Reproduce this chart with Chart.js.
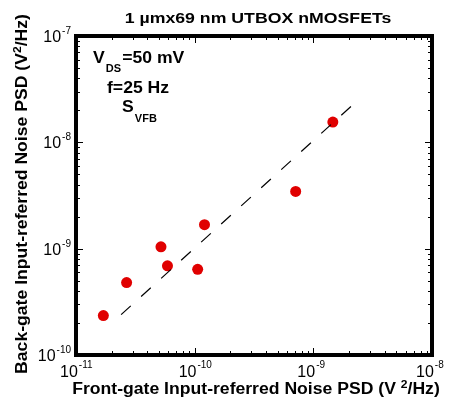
<!DOCTYPE html>
<html>
<head>
<meta charset="utf-8">
<script src="https://cdn.jsdelivr.net/npm/chart.js@4.4.1/dist/chart.umd.min.js"></script>
<style>
  html, body { margin: 0; padding: 0; background: #fff; }
  #wrap { width: 451px; height: 400px; position: relative; }
</style>
</head>
<body>
<div id="wrap"><canvas id="chart"></canvas></div>
<script>
// data
const frontGate = [1.70e-11, 2.67e-11, 5.2e-11, 5.9e-11, 1.06e-10, 1.21e-10, 7.1e-10, 1.46e-9];
const backGate  = [2.35e-10, 4.8e-10, 1.04e-9, 6.9e-10, 6.4e-10, 1.68e-9, 3.45e-9, 1.55e-8];
const fitX = [2.4e-11, 2.1e-9];
const fitY = [2.4e-10, 2.2e-8];
const xDecades = [-11, -10, -9, -8];
const yDecades = [-10, -9, -8, -7];

const FONT = "'Liberation Sans', Arial, sans-serif";

// draws runs of text, each with its own size and baseline shift; sx stretches horizontally
function drawRuns(ctx, runs, x, y, align, sx) {
  sx = sx || 1;
  let total = 0;
  runs.forEach(r => { ctx.font = r.font; r.w = ctx.measureText(r.t).width; total += r.w + (r.gap || 0); });
  let cx = align === 'center' ? -total / 2 : align === 'right' ? -total : 0;
  ctx.save();
  ctx.translate(x, y);
  ctx.scale(sx, 1);
  ctx.textAlign = 'left';
  ctx.textBaseline = 'alphabetic';
  runs.forEach(r => {
    ctx.font = r.font;
    ctx.fillText(r.t, cx, r.dy || 0);
    cx += r.w + (r.gap || 0);
  });
  ctx.restore();
}

const frame = {
  id: 'frame',
  afterDraw(chart) {
    const { ctx, chartArea: a, scales } = chart;
    const xs = scales.x, ys = scales.y;
    ctx.save();
    ctx.fillStyle = '#000';
    ctx.strokeStyle = '#000';

    // inside ticks, all four sides
    ctx.lineWidth = 1;
    ctx.beginPath();
    xDecades.forEach((d, i) => {
      for (let m = 1; m < 10; m++) {
        if (m > 1 && i === xDecades.length - 1) break;
        const px = Math.round(xs.getPixelForValue(m * Math.pow(10, d))) + 0.5;
        const len = m === 1 ? 7 : 4;
        ctx.moveTo(px, a.bottom); ctx.lineTo(px, a.bottom - len);
        ctx.moveTo(px, a.top); ctx.lineTo(px, a.top + len);
      }
    });
    yDecades.forEach((d, i) => {
      for (let m = 1; m < 10; m++) {
        if (m > 1 && i === yDecades.length - 1) break;
        const py = Math.round(ys.getPixelForValue(m * Math.pow(10, d))) + 0.5;
        const len = m === 1 ? 7 : 4;
        ctx.moveTo(a.left, py); ctx.lineTo(a.left + len, py);
        ctx.moveTo(a.right, py); ctx.lineTo(a.right - len, py);
      }
    });
    ctx.stroke();

    // heavy box
    ctx.lineWidth = 4;
    ctx.strokeRect(a.left, a.top, a.right - a.left, a.bottom - a.top);

    // tick labels
    const big = '16px ' + FONT, small = '10px ' + FONT;
    xDecades.forEach(d => {
      const px = xs.getPixelForValue(Math.pow(10, d));
      drawRuns(ctx, [{ t: '10', font: big, gap: 1 }, { t: String(d), font: small, dy: -9 }], px - 16, a.bottom + 22, 'left');
    });
    yDecades.forEach(d => {
      const py = ys.getPixelForValue(Math.pow(10, d));
      drawRuns(ctx, [{ t: '10', font: big, gap: 1 }, { t: String(d), font: small, dy: -8 }], a.left - 5, py + 6, 'right');
    });

    // titles
    const bold = 'bold 16px ' + FONT, boldSup = 'bold 11px ' + FONT;
    drawRuns(ctx, [{ t: '1 \u00b5mx69 nm UTBOX nMOSFETs', font: 'bold 15px ' + FONT }], 258, 23, 'center', 1.18);
    drawRuns(ctx, [
      { t: 'Front-gate Input-referred Noise PSD (V ', font: bold },
      { t: '2', font: boldSup, dy: -6 },
      { t: '/Hz)', font: bold }
    ], 256, 394, 'center', 1.1);

    ctx.save();
    ctx.translate(27, 194);
    ctx.rotate(-Math.PI / 2);
    drawRuns(ctx, [
      { t: 'Back-gate Input-referred Noise PSD (V', font: bold },
      { t: '2', font: boldSup, dy: -6 },
      { t: '/Hz)', font: bold }
    ], 0, 0, 'center', 1.1);
    ctx.restore();

    // annotations
    const sub = 'bold 10px ' + FONT;
    drawRuns(ctx, [
      { t: 'V', font: bold, gap: 1 },
      { t: 'DS', font: sub, dy: 9, gap: 1 },
      { t: '=50 mV', font: bold }
    ], 93, 63, 'left', 1.1);
    drawRuns(ctx, [{ t: 'f=25 Hz', font: bold }], 107, 93, 'left', 1.1);
    drawRuns(ctx, [
      { t: 'S', font: bold, gap: 1 },
      { t: 'VFB', font: sub, dy: 10 }
    ], 122, 112, 'left', 1.1);

    ctx.restore();
  }
};

new Chart(document.getElementById('chart'), {
  type: 'scatter',
  data: {
    datasets: [
      {
        label: 'fit',
        data: fitX.map((x, i) => ({ x, y: fitY[i] })),
        showLine: true,
        borderColor: '#000',
        borderWidth: 1.2,
        borderDash: [13, 14],
        pointRadius: 0,
        fill: false
      },
      {
        label: 'SVFB',
        data: frontGate.map((x, i) => ({ x, y: backGate[i] })),
        backgroundColor: '#e00000',
        borderColor: '#e00000',
        borderWidth: 0,
        pointRadius: 5.5,
        pointHoverRadius: 5.5
      }
    ]
  },
  options: {
    responsive: true,
    maintainAspectRatio: false,
    animation: false,
    layout: { padding: { top: 36, right: 19, left: 0, bottom: 0 } },
    plugins: { legend: { display: false }, tooltip: { enabled: false }, title: { display: false } },
    scales: {
      x: {
        type: 'logarithmic',
        min: 1e-11, max: 1e-8,
        grid: { display: false, drawTicks: false },
        border: { display: false },
        ticks: { display: false },
        afterFit(scale) { scale.height = 45; }
      },
      y: {
        type: 'logarithmic',
        min: 1e-10, max: 1e-7,
        grid: { display: false, drawTicks: false },
        border: { display: false },
        ticks: { display: false },
        afterFit(scale) { scale.width = 76; }
      }
    }
  },
  plugins: [frame]
});
</script>
</body>
</html>
